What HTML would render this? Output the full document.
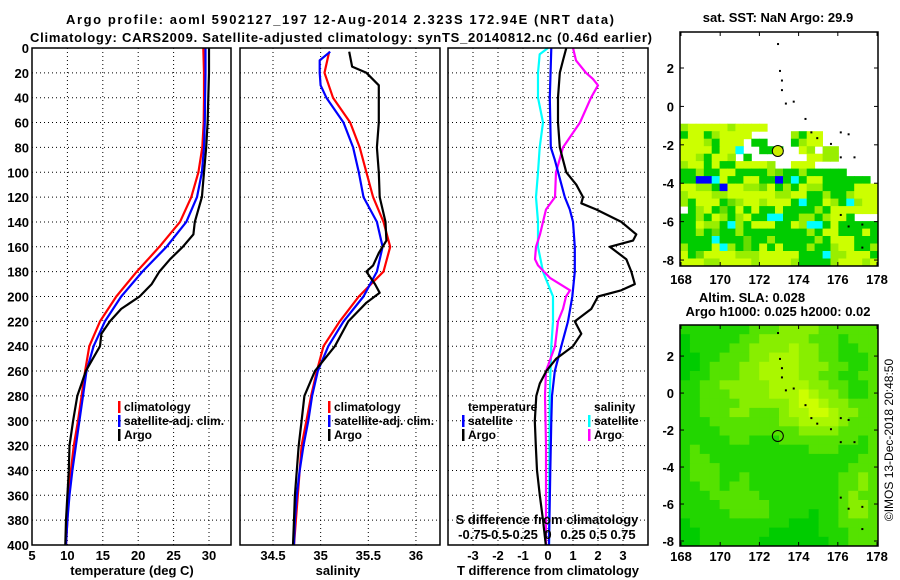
<!DOCTYPE html>
<html><head><meta charset="utf-8"><style>
body{margin:0;background:#fff}
svg{display:block;font-family:"Liberation Sans",sans-serif}
.t{font-weight:bold;font-size:13px;fill:#000}
.lg{font-weight:bold;font-size:12px;fill:#000}
</style></head><body>
<svg id="s" width="900" height="580" viewBox="0 0 900 580">
<text class="t" x="340" y="24" text-anchor="middle" font-size="14" textLength="548">Argo profile: aoml 5902127_197 12-Aug-2014 2.323S 172.94E (NRT data)</text>
<text class="t" x="341" y="42" text-anchor="middle" font-size="14" textLength="622">Climatology: CARS2009. Satellite-adjusted climatology: synTS_20140812.nc (0.46d earlier)</text>
<text class="t" x="778" y="22" text-anchor="middle">sat. SST: NaN Argo: 29.9</text>
<text class="t" x="752" y="302" text-anchor="middle">Altim. SLA: 0.028</text>
<text class="t" x="778" y="316" text-anchor="middle">Argo h1000: 0.025 h2000: 0.02</text>
<text x="893" y="440" font-size="12" text-anchor="middle" transform="rotate(-90 893 440)">©IMOS 13-Dec-2018 20:48:50</text>
<g id="g"></g>
</svg>
<script>
// ---- profile data ----
const depthClim = [0,20,40,60,80,100,120,140,160,180,200,220,240,260,280,300,320,340,360,380,400];
const tempClim = [29.2,29.3,29.3,29.25,29.05,28.5,27.5,25.9,23,19.8,16.9,14.6,13.1,12.5,12.0,11.5,10.9,10.5,10.2,10.0,9.8];
const tempSat = [29.5,29.5,29.45,29.4,29.3,29.0,28.3,26.8,24,20.6,17.6,15.3,13.7,12.7,12.2,11.7,11.2,10.7,10.3,10.0,9.8];
const depthArgoT = [0,20,40,60,80,100,120,140,150,160,170,180,190,200,210,220,230,240,250,260,270,280,300,320,340,360,380,400];
const tempArgo = [30.0,30.0,29.9,29.8,29.6,29.3,29.0,28.0,27.8,26.3,24.5,23,21.9,20.2,17.6,16,14.8,14.6,13.6,12.6,12,11.4,10.8,10.3,10.2,10,9.8,9.7];
const depthSalClim = [3,20,40,60,80,100,120,140,160,180,200,220,240,260,280,300,320,340,360,380,400];
const salClim = [35.09,35.04,35.13,35.31,35.41,35.48,35.55,35.66,35.73,35.66,35.4,35.2,35.03,34.96,34.9,34.85,34.8,34.78,34.76,34.74,34.72];
const depthSalSat = [3,10,20,30,40,60,80,100,120,140,160,180,200,220,240,260,280,300,320,340,360,380,400];
const salSat = [35.1,34.99,34.99,35.0,35.06,35.24,35.34,35.4,35.45,35.59,35.65,35.59,35.45,35.24,35.08,34.97,34.91,34.87,34.82,34.78,34.75,34.73,34.72];
const depthSalArgo = [3,15,20,30,60,80,100,120,140,155,165,175,180,190,197,205,220,240,260,280,300,320,340,360,380,400];
const salArgo = [35.3,35.33,35.48,35.61,35.61,35.59,35.61,35.62,35.68,35.69,35.61,35.55,35.48,35.57,35.62,35.48,35.29,35.15,34.94,34.83,34.8,34.77,34.75,34.73,34.72,34.71];
const depthDT = [0,40,80,90,120,130,140,160,180,200,220,240,260,280,300,340,400];
const dTsat = [0.13,0.07,0.11,0.27,0.67,0.87,1.0,1.07,1.07,0.97,0.8,0.53,0.27,0.16,0.13,0.09,0.04];
const depthDTa = [0,10,20,40,60,80,90,100,110,120,125,130,140,150,155,160,170,180,190,195,200,210,220,230,240,250,260,270,280,300,320,340,360,380,400];
const dTargo = [0.73,0.6,0.47,0.4,0.4,0.47,0.6,0.73,1.13,1.4,1.33,1.93,2.93,3.53,3.4,2.47,3.13,3.33,3.47,2.93,2.0,1.73,1.07,1.33,1.0,0.33,-0.07,-0.33,-0.47,-0.53,-0.49,-0.44,-0.33,-0.2,-0.09];
const depthDS = [0,5,20,40,60,80,100,120,140,160,180,190,200,220,240,280,400];
const dSsat = [0,-0.083,-0.1,-0.1,-0.05,-0.083,-0.1,-0.12,-0.1,-0.1,-0.05,0,0.05,0.05,0.033,0.017,0.01];
const depthDSa = [0,10,20,25,30,40,60,80,100,120,130,140,150,160,170,175,185,195,200,210,220,240,260,280,320,400];
const dSargo = [0.25,0.28,0.38,0.45,0.5,0.43,0.32,0.15,0.08,0.07,-0.02,-0.05,-0.08,-0.12,-0.13,-0.1,0.02,0.22,0.18,0.15,0.1,0.07,-0.02,-0.03,-0.02,-0.02];
const depthTicks = [0,20,40,60,80,100,120,140,160,180,200,220,240,260,280,300,320,340,360,380,400];
const tempTicks = [5,10,15,20,25,30];
const salTicks = [34.5,35,35.5,36];
const dTTicks = [-3,-2,-1,0,1,2,3];
const dSTicks = [-0.75,-0.5,-0.25,0,0.25,0.5,0.75];
const dSTickLabels = ["-0.75","-0.5","-0.25","0","0.25","0.5","0.75"];
// ---- map data ----
const sstRows = [
"lyyyyylyyyy..............",
"gyyglyyyy.....lgyy.......",
"yyylgyyy.gg...glyy.......",
"yyyygyyc..ggg..yl.ll.....",
"yylgyyl.g.......yyll.....",
"lyygyggyyyyl..yyy........",
"gglggyygggglkgglggggg....",
"ggbbcyggyyggbgcgyygggggg.",
"yyllgbyyllkyglgyllggggyyy",
"lyyyllyyyyyyllyygglgglyyy",
"lgyyygklyylyyygcggylgclyy",
".glygkgygyggygggglgyyyyyy",
"gglgylglyggccggllglyyg...",
"ggyllgclgyyyggylccgyggggg",
"gglgkgglgggggggglgyygggyg",
"ggggcgggkgglggggglgyyyggg",
"lgggyclgkgygyggglgglyyggl",
"ygkyyyylllyyyyygggcllyyyg",
"yyyllyyyylyyyylgggglyyyly"];
const slaRows = [
"bbbbbbbcccddddcccccc","abbbbbccdddddcccbccc","abbbbccddddeddccbbcc","aabbcccddeeeddccbbbc",
"aabcccddeeeedddccbbc","abbcccddeeeeddccbbcc","bbccdddddeeeeddccbbc","bbcccddddeeefeddcbbc",
"bbccccdddddeffeddccc","bbcccddcccdeeffeddcc","bbbcccccccddeeeedccc","bbbbccccccccddddcccc",
"bbbbbccbbbccccccccbc","bcbbbbbbbbbbbcccbbbc","bccbbbbbbbbbbbbbbbcc","bcccbbbbbbbbbbbbbccc",
"bcccbbcbbbbbbbbbccdc","bbccbccbbbbbbbbbccdc","bbbcccccbbbbbbbbcdcc","bbbbcccccbbbbbbbcddc",
"bbbbbccccbbbbabbcddc","abbbbbbbbbbaaabbcccc","aabbbbbbbaaaaabbbccc","aabbbbbbaaaaaaabbccc"];
const islandLon = [172.9,173.0,173.1,173.1,173.3,173.7,174.3,174.6,174.9,175.6,176.1,176.5,176.1,176.8,176.1,176.5,177.2,177.2];
const islandLat = [3.3,1.9,1.4,0.9,0.2,0.3,-0.6,-1.3,-1.6,-1.9,-1.3,-1.4,-2.6,-2.6,-5.6,-6.2,-6.1,-7.3];
const lonTicks = [168,170,172,174,176,178];
const latTicks = [2,0,-2,-4,-6,-8];
const argoLon = 172.94, argoLat = -2.323;

const NS='http://www.w3.org/2000/svg';
const G=document.getElementById('g');
function mk(tag,at,parent){const e=document.createElementNS(NS,tag);for(const k in at)e.setAttribute(k,at[k]);(parent||G).appendChild(e);return e;}
const TOP=48,BOT=545;
const yD=d=>TOP+d*(BOT-TOP)/400;
const xT=v=>32+(v-5)*7.08;
const xS=v=>273+(v-34.5)*95.3;
const xD=v=>548+v*25;
const xDS=v=>xD(v*4);

function frame(x0,x1,name){
  const r=mk('rect',{x:x0,y:TOP,width:x1-x0,height:BOT-TOP,fill:'none',stroke:'#000','stroke-width':1.5});
  
  
}
function hgrid(x0,x1){
  depthTicks.forEach(d=>{
    const l=mk('line',{x1:x0,x2:x1,y1:yD(d),y2:yD(d),stroke:'#000','stroke-dasharray':'1,3','stroke-width':1});
    
    
  });
}
function vgrid(ticks,fx){
  ticks.forEach(v=>{
    const l=mk('line',{x1:fx(v),x2:fx(v),y1:TOP,y2:BOT,stroke:'#000','stroke-dasharray':'1,3','stroke-width':1});
    
    
  });
}
function xlabels(ticks,fx,labels,y,name){
  ticks.forEach((v,i)=>{
    const t=mk('text',{x:fx(v),y:y,'text-anchor':'middle',class:'t'});
    t.textContent=labels?labels[i]:String(v);
    
    
  });
}
function line(depths,vals,fx,color,name,w){
  const p=depths.map((d,i)=>fx(vals[i]).toFixed(1)+','+yD(d).toFixed(1)).join(' ');
  const e=mk('polyline',{points:p,fill:'none',stroke:color,'stroke-width':w||2.2,'stroke-linejoin':'round'});
  
  
}
function text(x,y,s,name,anchor,cls){
  const t=mk('text',{x:x,y:y,class:cls||'t','text-anchor':anchor||'start'});
  t.textContent=s;
  
  
}
function legend(x,y,color,s,name){
  const r=mk('rect',{x:x,y:y-10,width:2.5,height:12,fill:color});
  
  
  text(x+6,y,s,name,'start','lg');
}
// panel 1
hgrid(32,231); vgrid([10,15,20,25,30],xT);
depthTicks.forEach(d=>{
  const t=mk('text',{x:29,y:yD(d)+5,'text-anchor':'end',class:'t'});
  t.textContent=String(d);
  
  
});
line(depthClim,tempClim,xT,'#f00','temp-climatology-line');
line(depthClim,tempSat,xT,'#00f','temp-satellite-line');
line(depthArgoT,tempArgo,xT,'#000','temp-argo-line');
frame(32,231,'temperature-panel');
xlabels(tempTicks,xT,null,560,'temp-tick-label');
text(132,575,'temperature (deg C)','temperature-axis-title','middle');
legend(118,411,'#f00','climatology','legend-climatology');
legend(118,425,'#00f','satellite-adj. clim.','legend-satellite');
legend(118,439,'#000','Argo','legend-argo');
// panel 2
hgrid(240,440); vgrid(salTicks,xS);
line(depthSalClim,salClim,xS,'#f00','sal-climatology-line');
line(depthSalSat,salSat,xS,'#00f','sal-satellite-line');
line(depthSalArgo,salArgo,xS,'#000','sal-argo-line');
frame(240,440,'salinity-panel');
xlabels(salTicks,xS,null,560,'sal-tick-label');
text(338,575,'salinity','salinity-axis-title','middle');
legend(328,411,'#f00','climatology','legend-climatology-2');
legend(328,425,'#00f','satellite-adj. clim.','legend-satellite-2');
legend(328,439,'#000','Argo','legend-argo-2');
// panel 3
hgrid(448,648); vgrid(dTTicks,xD);
line(depthDS,dSsat,xDS,'#0ff','sdiff-satellite-line');
line(depthDSa,dSargo,xDS,'#f0f','sdiff-argo-line');
line(depthDT,dTsat,xD,'#00f','tdiff-satellite-line');
line(depthDTa,dTargo,xD,'#000','tdiff-argo-line');
frame(448,648,'difference-panel');
xlabels(dTTicks,xD,null,560,'tdiff-tick-label');
xlabels(dSTicks,xDS,dSTickLabels,539,'sdiff-tick-label');
text(547,524,'S difference from climatology','sdiff-axis-title','middle');
text(548,575,'T difference from climatology','tdiff-axis-title','middle');
text(468,411,'temperature','legend-temperature-heading','start','lg');
legend(462,425,'#00f','satellite','legend-t-satellite');
legend(462,439,'#000','Argo','legend-t-argo');
text(594,411,'salinity','legend-salinity-heading','start','lg');
legend(588,425,'#0ff','satellite','legend-s-satellite');
legend(588,439,'#f0f','Argo','legend-s-argo');
// maps
const palSST={y:'#ccff00',l:'#99ee00',k:'#66dd00',g:'#00cc00',c:'#00ffff',b:'#0000ff'};
const palSLA={a:'#00cc00',b:'#22d600',c:'#55e200',d:'#88ee00',e:'#aaf700',f:'#ccff00'};
function mapPanel(y0,y1,latTop,latBot,rows,pal,rLat0,rLat1,name,fillCircle,xlabY){
  const X0=680,X1=878;
  const mx=lon=>X0+(lon-167.95)*(X1-X0)/10.1;
  const my=lat=>y0+(latTop-lat)*(y1-y0)/(latTop-latBot);
  const nr=rows.length, nc=rows[0].length;
  const dLat=(rLat0-rLat1)/nr, dLon=10.1/nc;
  rows.forEach((row,i)=>{
    for(let j=0;j<nc;j++){
      const c=pal[row[j]]; if(!c) continue;
      const x=mx(167.95+j*dLon), y=my(rLat0-i*dLat);
      const r=mk('rect',{x:x.toFixed(1),y:y.toFixed(1),width:(mx(167.95+(j+1)*dLon)-x+0.5).toFixed(1),height:(my(rLat0-(i+1)*dLat)-y+0.5).toFixed(1),fill:c});
      
      
    }
  });
  islandLon.forEach((lo,i)=>{
    const la=islandLat[i]; if(la>latTop||la<latBot) return;
    const r=mk('rect',{x:mx(lo),y:my(la),width:2,height:2,fill:'#000'});
    
    
  });
  const c=mk('circle',{cx:mx(argoLon),cy:my(argoLat),r:5.5,fill:fillCircle,stroke:'#000','stroke-width':1});
  
  
  const f=mk('rect',{x:X0,y:y0,width:X1-X0,height:y1-y0,fill:'none',stroke:'#000','stroke-width':1.5});
  
  
  latTicks.forEach(la=>{
    const t=mk('text',{x:674,y:my(la)+5,'text-anchor':'end',class:'t'});
    t.textContent=String(la);
    
    
    mk('line',{x1:X0,x2:X0+4,y1:my(la),y2:my(la),stroke:'#000'});
    mk('line',{x1:X1-4,x2:X1,y1:my(la),y2:my(la),stroke:'#000'});
  });
  lonTicks.forEach(lo=>{
    const t=mk('text',{x:mx(lo),y:xlabY,'text-anchor':'middle',class:'t'});
    t.textContent=String(lo);
    
    
    mk('line',{x1:mx(lo),x2:mx(lo),y1:y1-4,y2:y1,stroke:'#000'});
    mk('line',{x1:mx(lo),x2:mx(lo),y1:y0,y2:y0+4,stroke:'#000'});
  });
}
mapPanel(32,266,3.875,-8.31,sstRows,palSST,-0.9,-8.31,'sst-map','#ccee00',284);
mapPanel(325,546,3.68,-8.27,slaRows,palSLA,3.68,-8.27,'sla-map','none',561);
</script>
</body></html>
